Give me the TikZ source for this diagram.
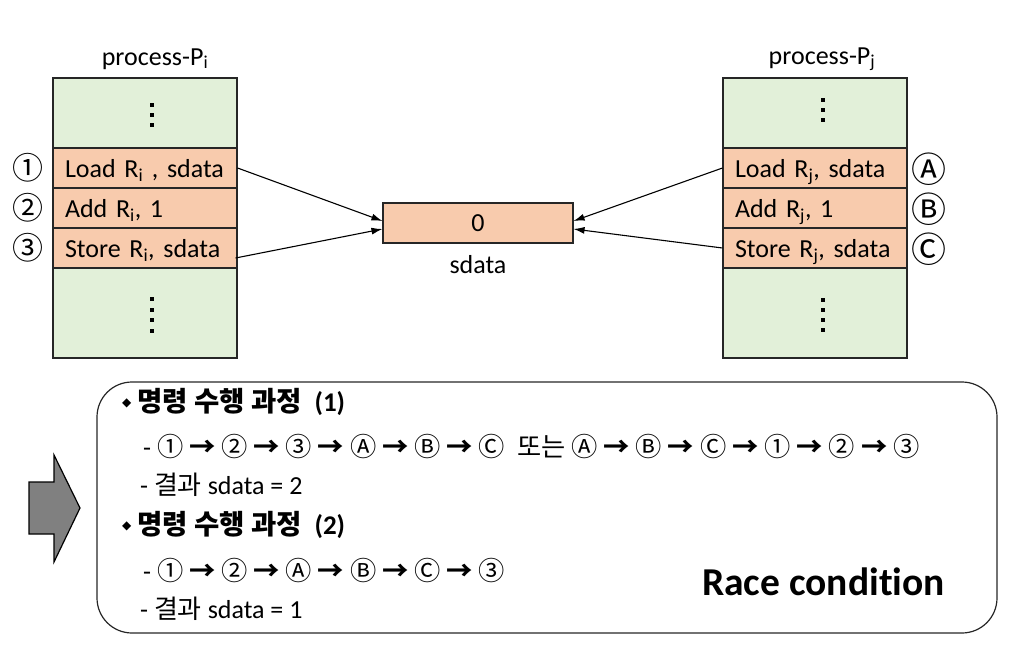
\documentclass[tikz,border=0pt]{standalone}
\usepackage{fontspec}
\setmainfont{Carlito}[Ligatures=NoCommon]
\newfontfamily\kr{Noto Sans CJK KR}
\newfontfamily\sym{DejaVu Sans}
\usetikzlibrary{arrows.meta}
\definecolor{grn}{RGB}{226,240,217}
\definecolor{org}{RGB}{248,203,173}
\definecolor{arw}{RGB}{128,128,128}
\newcommand\fsz[1]{\fontsize{#1}{#1}\selectfont}
\newcommand\ra{{\bfseries →}}
\newcommand\bul{\raisebox{5pt}{\sym\fsz{12}◆}}
\tikzset{
  gbox/.style={draw=black!85, line width=1.1pt, fill=grn, minimum width=184pt, inner sep=0pt},
  obox/.style={draw=black!85, line width=1.1pt, fill=org, minimum width=184pt, minimum height=40pt,
    text width=160pt, align=left, inner xsep=12pt, inner ysep=0pt, text height=20pt, text depth=1.5pt, font=\fsz{26}},
  lbl/.style={inner sep=0pt, font=\fsz{26}, anchor=base},
  circ/.style={inner sep=0pt, font=\kr\fsz{31}},
  sq/.style={fill=black, minimum size=4.5pt, inner sep=0pt},
  link/.style={-{Latex[length=11pt,width=7pt]}, line width=1.1pt},
  txt/.style={anchor=west, inner sep=0pt, font=\fsz{26}},
}
\begin{document}
\begin{tikzpicture}[x=1pt,y=-1pt]
\useasboundingbox (0,0) rectangle (1015,645);
% process P_i
\node[lbl] (pi) at (155,65) {process-P\textsubscript{i}};
\node[gbox, minimum height=70pt] (itop) at (145,113) {};
\node[obox] (i1) at (145,168) {Load R\textsubscript{i} , sdata};
\node[obox] (i2) at (145,208) {Add R\textsubscript{i}, 1};
\node[obox] (i3) at (145,248) {Store R\textsubscript{i}, sdata};
\node[gbox, minimum height=90pt] (ibot) at (145,313) {};
\foreach \y/\n in {105/a,115/b,125/c} \node[sq] (idt\n) at (152,\y) {};
\foreach \y/\n in {299/a,310/b,320/c,331/d} \node[sq] (idb\n) at (152,\y) {};
\node[circ] (c1) at (28,168) {①};
\node[circ] (c2) at (28,208) {②};
\node[circ] (c3) at (28,248) {③};
% process P_j
\node[lbl] (pj) at (822,64) {process-P\textsubscript{j}};
\node[gbox, minimum height=70pt] (jtop) at (815,113) {};
\node[obox] (j1) at (815,168) {Load R\textsubscript{j}, sdata};
\node[obox] (j2) at (815,208) {Add R\textsubscript{j}, 1};
\node[obox] (j3) at (815,248) {Store R\textsubscript{j}, sdata};
\node[gbox, minimum height=90pt] (jbot) at (815,313) {};
\foreach \y/\n in {100/a,110/b,120/c} \node[sq] (jdt\n) at (823,\y) {};
\foreach \y/\n in {300/a,310/b,320/c,330/d} \node[sq] (jdb\n) at (823,\y) {};
\node[circ, font=\kr\fsz{35}] (cA) at (929,169) {Ⓐ};
\node[circ, font=\kr\fsz{35}] (cB) at (929,209) {Ⓑ};
\node[circ, font=\kr\fsz{35}] (cC) at (929,249) {Ⓒ};
% shared data
\node[draw=black!85, line width=1.1pt, fill=org, minimum width=190pt, minimum height=40pt, inner sep=0pt, font=\fsz{26}] (mem) at (478,223) {0};
\node[lbl] (sd) at (478,273) {sdata};
\draw[link] (i1.east) -- ([yshift=2pt]mem.west);
\draw[link] ([shift={(-2,10)}]i3.east) -- ([yshift=-6pt]mem.west);
\draw[link] (j1.west) -- ([yshift=2pt]mem.east);
\draw[link] (j3.west) -- ([yshift=-6pt]mem.east);
% big arrow
\draw[fill=arw, line width=1.2pt, line join=miter] (29,482) -- (54,482) -- (54,455) -- (80,508) -- (54,562) -- (54,534) -- (29,534) -- cycle;
% panel
\node[draw=black!85, line width=1.2pt, rounded corners=35pt, minimum width=900pt, minimum height=251pt, inner sep=0pt] (panel) at (547,507.5) {};
\node[txt] (h1) at (122,402) {\bul{} {\kr\bfseries\fsz{27.5}명령 수행 과정}\hspace{7pt} \textbf{\fsz{27}(1)}};
\node[txt] (l2) at (143,447) {- {\kr\fsz{26.3}① \ra{} ② \ra{} ③ \ra{} Ⓐ \ra{} Ⓑ \ra{} Ⓒ\ \ 또는 Ⓐ \ra{} Ⓑ \ra{} Ⓒ \ra{} ① \ra{} ② \ra{} ③}};
\node[txt] (l3) at (140,485) {- {\kr 결과} sdata = 2};
\node[txt] (h2) at (122,525) {\bul{} {\kr\bfseries\fsz{27.5}명령 수행 과정}\hspace{7pt} \textbf{\fsz{27}(2)}};
\node[txt] (l5) at (143,570) {- {\kr\fsz{26.3}① \ra{} ② \ra{} Ⓐ \ra{} Ⓑ \ra{} Ⓒ \ra{} ③}};
\node[txt] (l6) at (140,609) {- {\kr 결과} sdata = 1};
\node[anchor=base west, inner sep=0pt, font=\bfseries\fsz{39.5}] (rc) at (702,595) {Race condition};
\end{tikzpicture}
\end{document}
